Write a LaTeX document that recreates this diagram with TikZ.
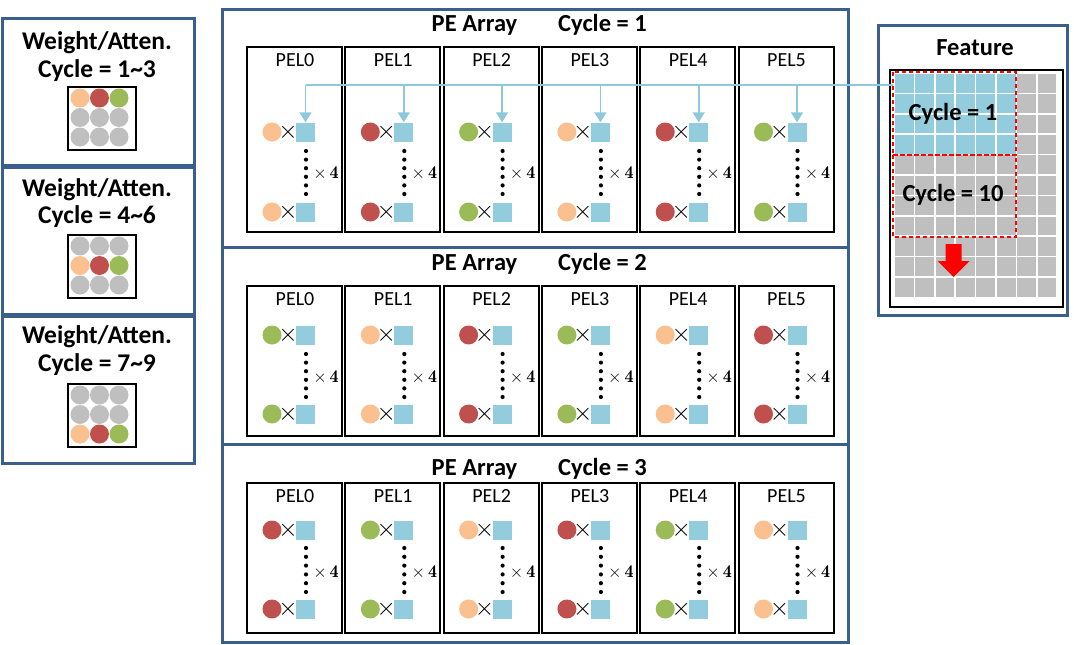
\documentclass[tikz,border=0pt]{standalone}
\usepackage[no-math]{fontspec}
\setmainfont{Carlito}
\usetikzlibrary{arrows.meta}
\definecolor{panelblue}{HTML}{3A5F8C}
\definecolor{cO}{HTML}{FAC090}
\definecolor{cR}{HTML}{C0504D}
\definecolor{cG}{HTML}{9BBB59}
\definecolor{cY}{HTML}{BFBFBF}
\definecolor{cB}{HTML}{93CDDD}
\definecolor{cline}{HTML}{8DC9DB}
\newcommand{\boldfour}{{\fontfamily{lmr}\fontseries{b}\selectfont 4}}
\tikzset{
  panel/.style={draw=panelblue, line width=3pt},
  pelbox/.style={draw=black, line width=2pt},
  title/.style={font=\bfseries\fontsize{24.5}{28}\selectfont, inner sep=0pt, anchor=base},
  wtitle/.style={font=\bfseries\fontsize{25.5}{28}\selectfont, inner sep=0pt, anchor=base},
  pellabel/.style={font=\fontsize{20}{22}\selectfont, inner sep=0pt, anchor=base},
  wdot/.style={circle, fill=#1, minimum size=19pt, inner sep=0pt, draw=none},
  sqr/.style={rectangle, fill=cB, minimum size=19pt, inner sep=0pt, draw=none},
  mul/.style={font=\fontsize{24}{26}\selectfont, inner sep=0pt},
  times4/.style={font=\fontsize{18}{20}\selectfont, inner sep=0pt},
  gridbox/.style={draw=black, line width=2.5pt},
  busline/.style={draw=cline, line width=1.6pt},
  busarrow/.style={draw=cline, line width=1.6pt, -{Triangle[width=12pt,length=10pt]}},
  reddash/.style={draw=red, line width=2pt, dash pattern=on 4pt off 3pt},
}
\begin{document}
\begin{tikzpicture}[x=1pt,y=-1pt]
\useasboundingbox (0,0) rectangle (1074,645);
% ---------------- left weight boxes ----------------
\foreach \b/\yt/\yb/\ta/\tb/\gt/\cyc/\row in {1/18/165/49.5/77/87/1\textasciitilde 3/0, 2/167/314/196/223.3/235/4\textasciitilde 6/1, 3/316/463/343/371.5/384/7\textasciitilde 9/2}{
  \draw[panel] (2,\yt) rectangle (194,\yb);
  \node[wtitle] (wt\b) at (97,\ta) {Weight/Atten.};
  \node[wtitle] (wc\b) at (97,\tb) {Cycle = \cyc};
  \foreach \r in {0,1,2}{
    \foreach \c/\col in {0/cO,1/cR,2/cG}{
      \ifnum\r=\row
        \node[wdot=\col] (w\b-\r-\c) at ({80+19.5*\c},{\gt+11+19.5*\r}) {};
      \else
        \node[wdot=cY] (w\b-\r-\c) at ({80+19.5*\c},{\gt+11+19.5*\r}) {};
      \fi
    }
  }
  \draw[gridbox] (68,\gt) rectangle (136,{\gt+63});
}
% ---------------- PE array panels ----------------
\draw[panel] (222,9) rectangle (848,247);
\draw[panel] (222,247) rectangle (848,444);
\draw[panel] (222,444) rectangle (848,642);
\foreach \p/\ty/\top/\bot/\lab/\ra/\rb/\da/\db/\xf/\cols in {
  1/31.7/47/232/66/132/212/151/194/173/{cO,cR,cG,cO,cR,cG},
  2/270/286/436/305/335/414/354/397/377/{cG,cO,cR,cG,cO,cR},
  3/475/483/633/502.7/530/609/548/592/572/{cR,cG,cO,cR,cG,cO}}{
  \node[title] (pa\p) at (474.5,\ty) {PE Array};
  \node[title] (pc\p) at (602.5,\ty) {Cycle = \p};
  \foreach \col [count=\i from 0] in \cols {
    \pgfmathsetmacro{\L}{247+98.3*\i}
    \draw[pelbox] (\L,\top) rectangle ({\L+95},\bot);
    \node[pellabel] (lab-\p-\i) at ({\L+48},\lab) {PEL\i};
    \node[wdot=\col] (ca-\p-\i) at ({\L+25},\ra) {};
    \node[mul] (ma-\p-\i) at ({\L+41},\ra) {$\times$};
    \node[sqr] (sa-\p-\i) at ({\L+58.5},\ra) {};
    \node[wdot=\col] (cb-\p-\i) at ({\L+25},\rb) {};
    \node[mul] (mb-\p-\i) at ({\L+41},\rb) {$\times$};
    \node[sqr] (sb-\p-\i) at ({\L+58.5},\rb) {};
    \foreach \k in {0,...,5}{
      \fill ({\L+59},{\da+\k*(\db-\da)/5}) circle (2.1);
    }
    \node[times4] (x4-\p-\i) at ({\L+79},\xf) {$\times$\,\boldfour};
  }
}
% ---------------- Feature box ----------------
\draw[panel] (878,25) rectangle (1067,315);
\node[title] (feat) at (975,55.7) {Feature};
\draw[gridbox] (890,70) rectangle (1063,307);
\foreach \r in {0,...,10}{
  \foreach \c in {0,...,7}{
    \pgfmathsetmacro{\fc}{(\r<4 && \c<6) ? 1 : 0}
    \ifdim\fc pt>0.5pt
      \filldraw[fill=cB, draw=white, line width=1.5pt] ({894+20.4*\c},{73+20.4*\r}) rectangle ++(20.4,20.4);
    \else
      \filldraw[fill=cY, draw=white, line width=1.5pt] ({894+20.4*\c},{73+20.4*\r}) rectangle ++(20.4,20.4);
    \fi
  }
}
\draw[reddash] (893,72) rectangle (1016,155);
\draw[reddash] (893,155) rectangle (1016,237);
\node[title] (fc1) at (953,120) {Cycle = 1};
\node[title] (fc10) at (953,201.7) {Cycle = 10};
\fill[red] (945.5,244) -- (961.5,244) -- (961.5,261) -- (969.5,261) -- (953.5,277) -- (937.5,261) -- (945.5,261) -- cycle;
% ---------------- bus line and arrows ----------------
\coordinate (busend) at (893,85);
\coordinate (busstart) at (sa-1-0.north |- busend);
\draw[busline] (busstart) -- (busend);
\foreach \i in {0,...,5}{
  \draw[busarrow] (sa-1-\i.north |- busend) -- (sa-1-\i.north);
}
\end{tikzpicture}
\end{document}
